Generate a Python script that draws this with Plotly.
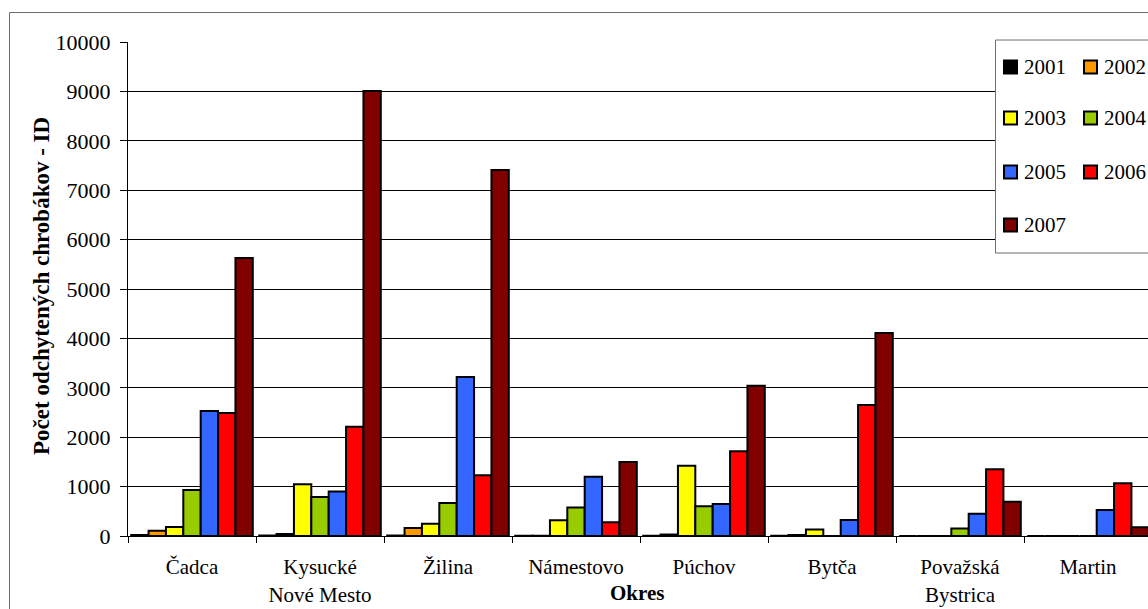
import plotly.graph_objects as go

# Districts (x categories) and trapping years (series)
districts = ["Čadca", "Kysucké<br>Nové Mesto", "Žilina", "Námestovo", "Púchov",
             "Bytča", "Považská<br>Bystrica", "Martin"]
years = ["2001", "2002", "2003", "2004", "2005", "2006", "2007"]

v2001 = [20, 10, 10, 5, 5, 5, 0, 0]
v2002 = [105, 40, 160, 5, 30, 20, 0, 0]
v2003 = [180, 1050, 250, 320, 1420, 130, 0, 0]
v2004 = [930, 790, 670, 575, 600, 0, 150, 0]
v2005 = [2530, 900, 3220, 1200, 650, 325, 450, 525]
v2006 = [2490, 2210, 1230, 280, 1715, 2650, 1350, 1070]
v2007 = [5630, 9010, 7410, 1500, 3040, 4110, 695, 175]

y_ticks = [0, 1000, 2000, 3000, 4000, 5000, 6000, 7000, 8000, 9000, 10000]

series = [v2001, v2002, v2003, v2004, v2005, v2006, v2007]
colors = ["#000000", "#FF9900", "#FFFF00", "#99CC00", "#3366FF", "#FF0000", "#800000"]

FONT = "Times New Roman, Liberation Serif, DejaVu Serif, serif"

W, H = 1148, 609
L, R, T, B = 128, 0, 42, 73
PW, PH = W - L - R, H - T - B


def px(x):
    return (x - L) / PW


def py(y):
    return (H - B - y) / PH


fig = go.Figure()
for name, vals, col in zip(years, series, colors):
    fig.add_trace(go.Bar(
        x=districts, y=vals, name=name,
        marker=dict(color=col, line=dict(color="#000000", width=2)),
        showlegend=False,
    ))

# outer chart frame
fig.add_shape(type="rect", xref="paper", yref="paper",
              x0=px(9.5), x1=px(1200), y0=py(12.5), y1=py(700),
              line=dict(color="#6e6e6e", width=1), fillcolor="rgba(0,0,0,0)",
              layer="above")

# legend box with two columns of entries
fig.add_shape(type="rect", xref="paper", yref="paper",
              x0=px(995.5), x1=px(1200), y0=py(40), y1=py(253),
              line=dict(color="#6e6e6e", width=1), fillcolor="white",
              layer="above")
rows = [67, 118, 172, 225]
for i, (name, col) in enumerate(zip(years, colors)):
    r, c = divmod(i, 2)
    sx = 1004 if c == 0 else 1084
    cy = rows[r]
    fig.add_shape(type="rect", xref="paper", yref="paper",
                  x0=px(sx), x1=px(sx + 13), y0=py(cy - 6.5), y1=py(cy + 6.5),
                  line=dict(color="#000000", width=2), fillcolor=col,
                  layer="above")
    fig.add_annotation(xref="paper", yref="paper", x=px(sx + 18), y=py(cy),
                       xanchor="left", yanchor="middle", showarrow=False,
                       text=name, font=dict(family=FONT, size=21, color="#000000"))

# axis titles
fig.add_annotation(xref="paper", yref="paper", x=px(637), y=py(593),
                   xanchor="center", yanchor="middle", showarrow=False,
                   text="<b>Okres</b>", font=dict(family=FONT, size=21, color="#000000"))
fig.add_annotation(xref="paper", yref="paper", x=px(41), y=py(286),
                   xanchor="center", yanchor="middle", showarrow=False, textangle=-90,
                   text="<b>Počet odchytených chrobákov - ID</b>",
                   font=dict(family=FONT, size=23, color="#000000"))

fig.update_layout(
    width=W, height=H,
    margin=dict(l=L, r=R, t=T, b=B, pad=0),
    paper_bgcolor="white", plot_bgcolor="white",
    barmode="group", bargap=0.05, bargroupgap=0,
    font=dict(family=FONT, size=21, color="#000000"),
    showlegend=False,
)
fig.update_xaxes(
    range=[-0.5, 7.5 - 4 / 128],
    showline=True, linecolor="#000000", linewidth=1,
    ticks="outside", ticklen=6, tickcolor="#000000", tickson="boundaries",
    tickfont=dict(family=FONT, size=21, color="#000000"),
    ticklabelstandoff=12,
    showgrid=False, automargin=False,
)
fig.update_yaxes(
    range=[0, 10000], tickvals=y_ticks, ticktext=[str(v) for v in y_ticks],
    showline=True, linecolor="#000000", linewidth=1,
    ticks="outside", ticklen=7, tickcolor="#000000",
    tickfont=dict(family=FONT, size=22, color="#000000"),
    ticklabelstandoff=5,
    showgrid=True, gridcolor="#000000", gridwidth=1,
    zeroline=False, automargin=False,
)

fig.write_html("out.html")
